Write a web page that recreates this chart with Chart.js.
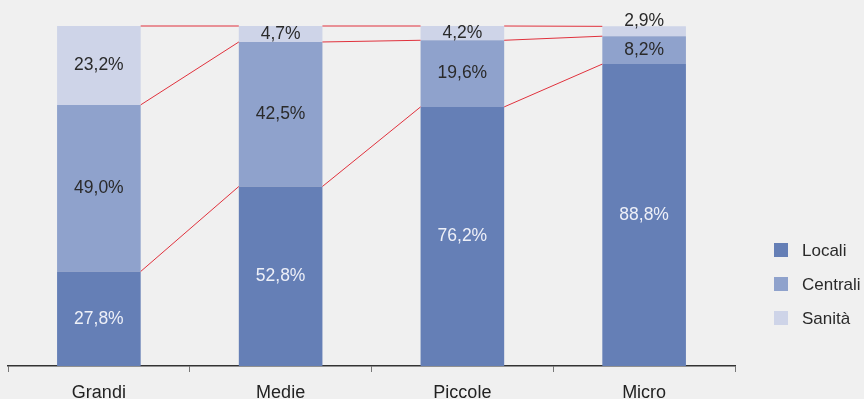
<!DOCTYPE html>
<html>
<head>
<meta charset="utf-8">
<script src="https://cdn.jsdelivr.net/npm/chart.js@4"></script>
<style>
  html, body { margin: 0; padding: 0; background: #f0f0f0; }
  #wrap { width: 864px; height: 399px; position: relative; }
</style>
</head>
<body>
<div id="wrap"><canvas id="chart"></canvas></div>
<script>
const categories = ['Grandi', 'Medie', 'Piccole', 'Micro'];
const locali   = [27.8, 52.8, 76.2, 88.8];
const centrali = [49.0, 42.5, 19.6, 8.2];
const sanita   = [23.2, 4.7, 4.2, 2.9];

const seriesNames = ['Locali', 'Centrali', 'Sanità'];
const seriesColors = ['#657fb6', '#8fa2cc', '#ced4e8'];
const labelColors = ['#eef0f8', '#2a2a2a', '#2a2a2a'];
const FONT = '"Liberation Sans", Arial, sans-serif';

// value labels centred in each segment (placed above the bar when it is too thin)
const valueLabels = {
  id: 'valueLabels',
  afterDatasetsDraw(chart) {
    const ctx = chart.ctx;
    ctx.save();
    ctx.font = '17.5px ' + FONT;
    ctx.textAlign = 'center';
    chart.data.datasets.forEach((ds, di) => {
      const meta = chart.getDatasetMeta(di);
      meta.data.forEach((bar, i) => {
        const txt = ds.data[i].toFixed(1).replace('.', ',') + '%';
        const h = Math.abs(bar.base - bar.y);
        ctx.fillStyle = labelColors[di];
        if (h < 12) {
          ctx.textBaseline = 'bottom';
          ctx.fillStyle = '#2a2a2a';
          ctx.fillText(txt, bar.x, bar.y + 4);
        } else {
          ctx.textBaseline = 'middle';
          ctx.fillText(txt, bar.x, (bar.y + bar.base) / 2);
        }
      });
    });
    ctx.restore();
  }
};

// red series lines joining segment tops between neighbouring bars
const seriesLines = {
  id: 'seriesLines',
  afterDatasetsDraw(chart) {
    const ctx = chart.ctx;
    ctx.save();
    ctx.strokeStyle = '#e0313c';
    ctx.lineWidth = 1;
    chart.data.datasets.forEach((ds, di) => {
      const bars = chart.getDatasetMeta(di).data;
      for (let i = 0; i < bars.length - 1; i++) {
        const a = bars[i], b = bars[i + 1];
        ctx.beginPath();
        ctx.moveTo(a.x + a.width / 2, a.y);
        ctx.lineTo(b.x - b.width / 2, b.y);
        ctx.stroke();
      }
    });
    ctx.restore();
  }
};

const sideLegend = {
  id: 'sideLegend',
  afterDraw(chart) {
    const ctx = chart.ctx;
    ctx.save();
    ctx.font = '17px ' + FONT;
    ctx.textBaseline = 'middle';
    ctx.textAlign = 'left';
    seriesNames.forEach((name, i) => {
      const cy = 250 + i * 34;
      ctx.fillStyle = seriesColors[i];
      ctx.fillRect(774, cy - 7, 14, 14);
      ctx.fillStyle = '#2a2a2a';
      ctx.fillText(name, 802, cy + 1);
    });
    ctx.restore();
  }
};

new Chart(document.getElementById('chart'), {
  type: 'bar',
  data: {
    labels: categories,
    datasets: [locali, centrali, sanita].map((d, i) => ({
      label: seriesNames[i],
      data: d,
      backgroundColor: seriesColors[i],
      borderWidth: 0,
      barPercentage: 0.46,
      categoryPercentage: 1
    }))
  },
  options: {
    responsive: true,
    maintainAspectRatio: false,
    animation: false,
    layout: { padding: { left: 8, right: 129, top: 26, bottom: 0 } },
    plugins: { legend: { display: false }, tooltip: { enabled: false } },
    scales: {
      x: {
        stacked: true,
        offset: true,
        grid: { offset: true, drawOnChartArea: false, drawTicks: true, tickLength: 6, color: '#777' },
        border: { color: '#333', width: 1.5 },
        ticks: { color: '#222', font: { family: FONT, size: 18 }, padding: 10 },
        afterFit(scale) { scale.height = 33; }
      },
      y: {
        stacked: true,
        display: false,
        min: 0,
        max: 100
      }
    }
  },
  plugins: [valueLabels, seriesLines, sideLegend]
});
</script>
</body>
</html>
